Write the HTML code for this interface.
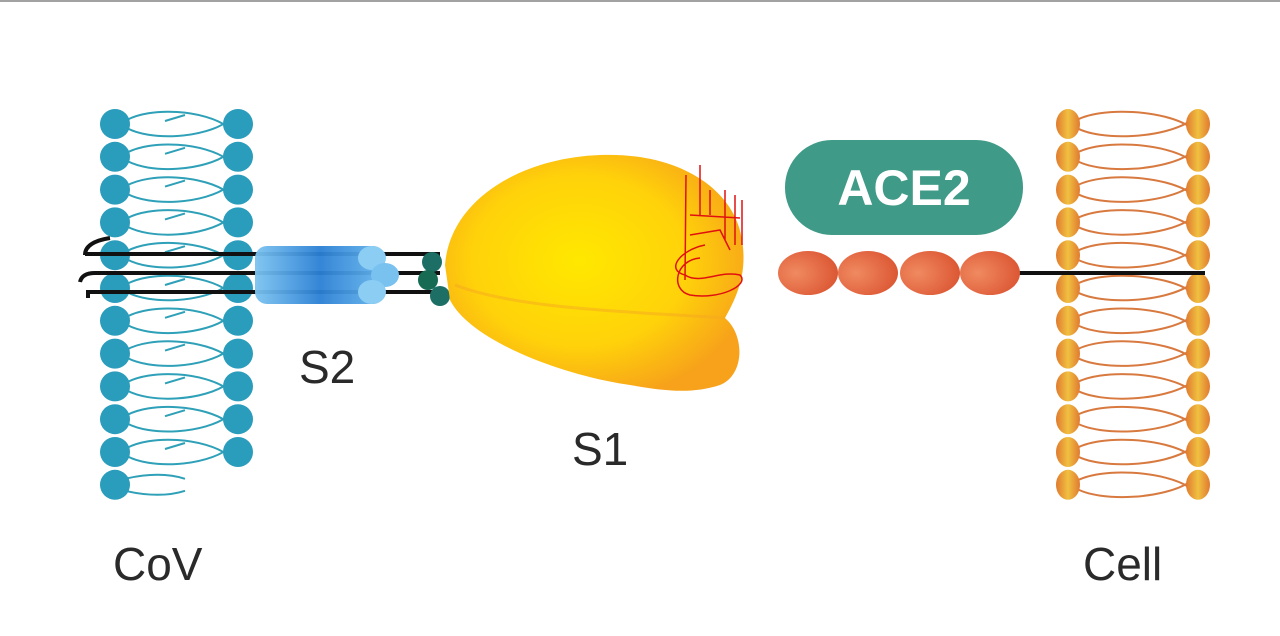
<!DOCTYPE html>
<html><head><meta charset="utf-8"><style>
html,body{margin:0;padding:0;background:#fff;width:1280px;height:636px;overflow:hidden}
svg{display:block}
text{font-family:"Liberation Sans",sans-serif}
</style></head><body>
<svg id="s" width="1280" height="636" viewBox="0 0 1280 636" xmlns="http://www.w3.org/2000/svg">
<defs>
<radialGradient id="yel" cx="0.45" cy="0.45" r="0.6">
<stop offset="0" stop-color="#ffe800"/><stop offset="0.6" stop-color="#ffd20a"/><stop offset="1" stop-color="#f7a21a"/></radialGradient>
<linearGradient id="blu" x1="0" y1="0" x2="1" y2="0">
<stop offset="0" stop-color="#7cc4f0"/><stop offset="0.5" stop-color="#2a7fd4"/><stop offset="1" stop-color="#6ab8ee"/></linearGradient>
<radialGradient id="bead" cx="0.3" cy="0.5" r="0.8">
<stop offset="0" stop-color="#f08a60"/><stop offset="1" stop-color="#d9502e"/></radialGradient>
<linearGradient id="cellhead" x1="0" y1="0" x2="1" y2="0">
<stop offset="0" stop-color="#e07a30"/><stop offset="0.5" stop-color="#f0c040"/><stop offset="1" stop-color="#e07a30"/></linearGradient>
</defs>
<line x1="0" y1="1" x2="1280" y2="1" stroke="#444" stroke-width="1"/>
<g id="cov"></g>
<g id="cell"></g>
<g stroke="#111" stroke-width="4" fill="none">
<path d="M85 255 Q85 242 110 238"/>
<line x1="85" y1="254" x2="440" y2="254"/>
<path d="M80 282 Q82 273 95 273 L440 273"/>
<path d="M88 298 L88 292 L440 292"/>
</g>
<rect x="255" y="246" width="130" height="58" rx="12" fill="url(#blu)" opacity="0.95"/>
<ellipse cx="372" cy="258" rx="14" ry="12" fill="#8ccdf4"/>
<ellipse cx="385" cy="275" rx="14" ry="12" fill="#79c2f0"/>
<ellipse cx="372" cy="292" rx="14" ry="12" fill="#8ccdf4"/>
<circle cx="432" cy="262" r="10" fill="#1d6e64"/>
<circle cx="428" cy="280" r="10" fill="#176b52"/>
<circle cx="440" cy="296" r="10" fill="#1d6e64"/>
<path d="M445 265 C450 200 520 158 600 155 C680 152 735 190 742 240 C748 275 735 300 725 318 C745 335 745 375 720 385 C690 395 660 390 630 385 C560 375 470 340 450 300 Z" fill="url(#yel)"/>
<path d="M455 285 C520 310 640 312 725 318" stroke="#f5a820" stroke-width="3" fill="none" opacity="0.5"/>
<g stroke="#e01010" stroke-width="1.5" fill="none">
<path d="M685 280 L686 175 M700 215 L700 165 M710 215 L710 190 M725 240 L725 190 M735 245 L735 195 M742 245 L742 200 M690 215 L740 218 M690 235 L720 230 L730 250 M705 245 C680 250 665 270 685 275 C700 285 720 270 740 275 C750 285 720 300 690 295 C670 290 675 260 700 258"/>
</g>
<rect x="785" y="140" width="238" height="95" rx="47" fill="#409a88"/>
<text x="904" y="205" text-anchor="middle" font-size="50" font-weight="bold" fill="#fff">ACE2</text>
<line x1="1015" y1="273" x2="1205" y2="273" stroke="#111" stroke-width="4"/>
<ellipse cx="808" cy="273" rx="30" ry="22" fill="url(#bead)"/>
<ellipse cx="868" cy="273" rx="30" ry="22" fill="url(#bead)"/>
<ellipse cx="930" cy="273" rx="30" ry="22" fill="url(#bead)"/>
<ellipse cx="990" cy="273" rx="30" ry="22" fill="url(#bead)"/>
<g font-size="46" fill="#2a2a2a">
<text x="299" y="383">S2</text>
<text x="572" y="465">S1</text>
<text x="113" y="580">CoV</text>
<text x="1083" y="580">Cell</text>
</g>
</svg>
<script>
var NS="http://www.w3.org/2000/svg";
function el(p,t,a){var e=document.createElementNS(NS,t);for(var k in a)e.setAttribute(k,a[k]);p.appendChild(e);return e;}
var cov=document.getElementById("cov"),cell=document.getElementById("cell");
for(var i=0;i<12;i++){
 var y=124+i*32.8;
 var last=(i==11);
 el(cov,"path",{d:last?"M125 "+(y-6)+" Q160 "+(y-14)+" 185 "+(y-6)+" M125 "+(y+6)+" Q160 "+(y+14)+" 185 "+(y+6):"M125 "+(y-3)+" C150 "+(y-18)+" 205 "+(y-14)+" 228 "+(y+3)+" M125 "+(y+3)+" C150 "+(y+18)+" 205 "+(y+14)+" 228 "+(y-3)+" M165 "+(y-3)+" L185 "+(y-9),stroke:"#2ea0b8","stroke-width":2,fill:"none"});
 el(cov,"circle",{cx:115,cy:y,r:15,fill:"#2a9cbc"});
 if(!last)el(cov,"circle",{cx:238,cy:y,r:15,fill:"#2a9cbc"});
 el(cell,"path",{d:"M1075 "+(y-3)+" C1100 "+(y-18)+" 1165 "+(y-14)+" 1190 "+(y+3)+" M1075 "+(y+3)+" C1100 "+(y+18)+" 1165 "+(y+14)+" 1190 "+(y-3),stroke:"#d87a40","stroke-width":2,fill:"none"});
 el(cell,"ellipse",{cx:1068,cy:y,rx:12,ry:15,fill:"url(#cellhead)"});
 el(cell,"ellipse",{cx:1198,cy:y,rx:12,ry:15,fill:"url(#cellhead)"});
}
</script>
</body></html>
